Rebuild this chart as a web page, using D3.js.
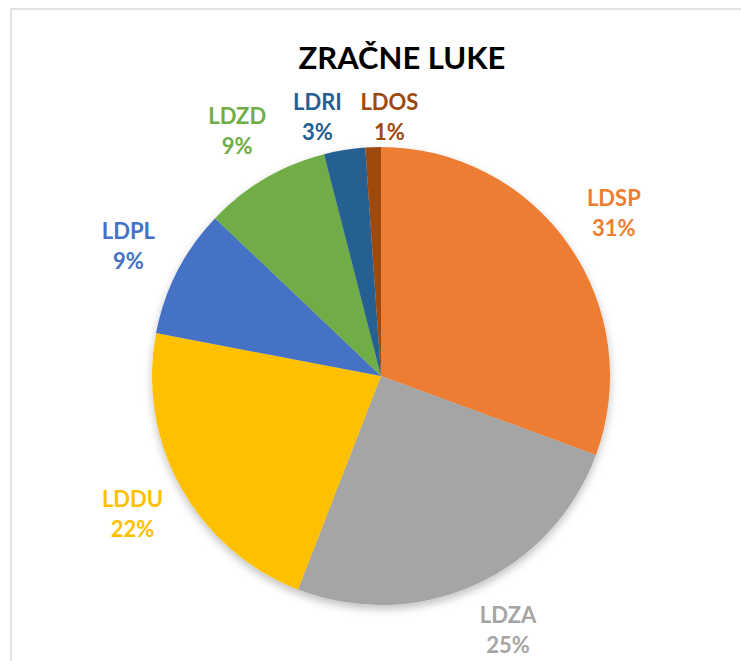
<!DOCTYPE html>
<html>
<head>
<meta charset="utf-8">
<style>
    body { margin: 0; background: #fff; }
    text { font-family: Lato, "Open Sans", sans-serif; font-weight: bold; }
</style>
</head>
<body></body>

<script type='text/javascript' src='https://d3js.org/d3.v7.min.js'></script>
<script>
    var width = 741, height = 661;

    // chart data
    var title = "ZRAČNE LUKE";
    var categories = ["LDSP", "LDZA", "LDDU", "LDPL", "LDZD", "LDRI", "LDOS"];
    var values = [30.6, 25.3, 22.1, 9.1, 8.9, 2.9, 1.1];
    var colors = ["#ED7D31", "#A5A5A5", "#FFC000", "#4472C4", "#70AD47", "#255E91", "#9E480E"];

    var cx = 381, cy = 376, radius = 229;
    var labelR = radius + 55;

    var svg = d3.select('body').append('svg').attr('width', width).attr('height', height);

    // soft shadow under the pie
    var defs = svg.append('defs');
    var f = defs.append('filter').attr('id', 'shadow')
        .attr('x', '-10%').attr('y', '-10%').attr('width', '120%').attr('height', '125%');
    f.append('feDropShadow').attr('dx', 0).attr('dy', 4).attr('stdDeviation', 4)
        .attr('flood-color', '#000').attr('flood-opacity', 0.25);

    // chart frame (runs off the right and bottom edge)
    svg.append('rect')
        .attr('x', 11).attr('y', 9)
        .attr('width', 800).attr('height', 700)
        .attr('fill', '#fff')
        .attr('stroke', '#d9d9d9').attr('stroke-width', 1.5);

    svg.append('text')
        .attr('x', 402).attr('y', 69)
        .attr('text-anchor', 'middle')
        .style('font-size', '31px')
        .attr('fill', '#000')
        .text(title);

    var data = categories.map(function (c, i) {
        return { name: c, value: values[i], color: colors[i] };
    });
    var total = d3.sum(values);

    var pie = d3.pie().sort(null).value(function (d) { return d.value; });
    var arcs = pie(data);
    var arc = d3.arc().innerRadius(0).outerRadius(radius);

    var g = svg.append('g').attr('transform', 'translate(' + cx + ',' + cy + ')');
    g.append('g').attr('filter', 'url(#shadow)')
        .selectAll('path')
        .data(arcs)
        .join('path')
        .attr('d', arc)
        .attr('fill', function (d) { return d.data.color; });

    // label positions: outside end along the slice middle
    var maxY = height - 31;
    var labels = arcs.map(function (a) {
        var mid = (a.startAngle + a.endAngle) / 2;
        var y = cy - labelR * Math.cos(mid);
        if (y > maxY) {
            // slide along the circle so the label stays inside the chart
            var t = Math.acos((cy - maxY) / labelR);
            mid = Math.sin(mid) >= 0 ? t : 2 * Math.PI - t;
        }
        return {
            d: a.data,
            x: cx + labelR * Math.sin(mid),
            y: cy - labelR * Math.cos(mid)
        };
    });

    // push apart labels that collide near the top of the pie
    var minDX = 72, halfH = 28, gap = 2;
    for (var i = 0; i < labels.length - 1; i++) {
        var a = labels[i], b = labels[i + 1];
        if (Math.abs(a.x - b.x) < minDX && Math.abs(a.y - b.y) < 50) {
            var m = (a.x + b.x) / 2;
            var left = a.x < b.x ? a : b, right = a.x < b.x ? b : a;
            left.x = m - minDX / 2;
            right.x = m + minDX / 2;
            var yTop = d3.min([left, right], function (l) {
                return cy - Math.sqrt(radius * radius - (l.x - cx) * (l.x - cx)) - gap - halfH;
            });
            left.y = yTop;
            right.y = yTop;
        }
    }

    var lab = svg.append('g').selectAll('text')
        .data(labels)
        .join('text')
        .attr('text-anchor', 'middle')
        .style('font-size', '22px')
        .attr('fill', function (l) { return l.d.color; });

    lab.append('tspan')
        .attr('x', function (l) { return l.x; })
        .attr('y', function (l) { return l.y - 7; })
        .text(function (l) { return l.d.name; });

    lab.append('tspan')
        .attr('x', function (l) { return l.x; })
        .attr('y', function (l) { return l.y + 23; })
        .text(function (l) { return Math.round(l.d.value / total * 100) + '%'; });
</script>
</html>
